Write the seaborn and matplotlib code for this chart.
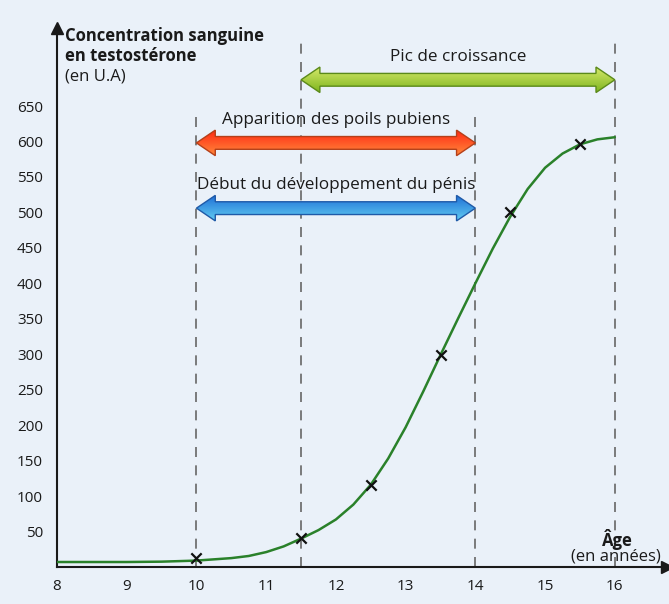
import matplotlib
matplotlib.use("Agg")
import matplotlib.pyplot as plt
import matplotlib.patches as mpatches
import numpy as np
import pandas as pd
import seaborn as sns

# courbe (âge en années, concentration en U.A)
age = [8, 9, 9.5, 10, 10.5, 10.75, 11, 11.25, 11.5, 11.75, 12, 12.25, 12.5,
       12.75, 13, 13.25, 13.5, 13.75, 14, 14.25, 14.5, 14.75, 15, 15.25,
       15.5, 15.75, 16]
conc = [7, 7, 7.5, 9, 12.5, 15.5, 21, 29, 40, 52, 67, 88, 116,
        153, 197, 247, 299, 350, 400, 449, 494, 533, 563, 583,
        596, 603, 606]

# points mesurés (croix)
pt_age = [10, 11.5, 12.5, 13.5, 14.5, 15.5]
pt_conc = [13, 41, 116, 299, 500, 597]

# périodes
periodes = ["Pic de croissance", "Apparition des poils pubiens",
            "Début du développement du pénis"]
debut = [11.5, 10, 10]
fin = [16, 14, 14]
niveau = [687, 598, 506]
grad_haut = ["#d4e86a", "#ff2a14", "#1f6fd6"]
grad_bas = ["#7cb41c", "#ff8a3c", "#62cdf2"]
bord = ["#5b8a1a", "#b5401a", "#1f5aa8"]

yticks = list(range(50, 700, 50))
xticks = list(range(8, 17))

bg = "#eaf1f9"
sns.set_theme(style="white")
plt.rcParams["font.family"] = ["Open Sans", "DejaVu Sans"]
plt.rcParams["text.color"] = "#1a1a1a"

fig = plt.figure(figsize=(6.69, 6.04), dpi=100, facecolor=bg)
ax = fig.add_axes([0.0852, 0.0613, 0.912, 0.8923], facecolor=bg)

XMIN, XMAX, YMIN, YMAX = 8, 16.75, 0, 760

# lignes pointillées verticales
for x, top in zip([10, 11.5, 14, 16], [637, 743, 637, 743]):
    ax.plot([x, x], [0, top], color="#666666", lw=1.2, ls=(0, (6, 5)), zorder=1)

# flèches doubles avec dégradé
hl = 0.27
hw = 18
tw = 9
for lab, a, b, y, c1, c2, ec in zip(periodes, debut, fin, niveau, grad_haut, grad_bas, bord):
    poly = [(a, y), (a + hl, y + hw), (a + hl, y + tw), (b - hl, y + tw),
            (b - hl, y + hw), (b, y), (b - hl, y - hw), (b - hl, y - tw),
            (a + hl, y - tw), (a + hl, y - hw)]
    patch = mpatches.Polygon(poly, closed=True, facecolor="none",
                             edgecolor=ec, lw=1.0, zorder=4)
    ax.add_patch(patch)
    cmap = matplotlib.colors.LinearSegmentedColormap.from_list("g", [c2, c1])
    grad = np.linspace(0, 1, 64).reshape(-1, 1)
    im = ax.imshow(grad, extent=[a, b, y - hw, y + hw], origin="lower",
                   cmap=cmap, aspect="auto", zorder=3)
    im.set_clip_path(patch)
    ax.text((a + b) / 2, y + 21, lab, ha="center", va="bottom", fontsize=12.3,
            zorder=5)

# courbe + croix
df = pd.DataFrame({"age": age, "conc": conc})
sns.lineplot(data=df, x="age", y="conc", ax=ax, color="#2a812a", lw=1.8,
             zorder=6)
pts = pd.DataFrame({"age": pt_age, "conc": pt_conc})
sns.scatterplot(data=pts, x="age", y="conc", ax=ax, marker="x", color="#111111",
                s=55, linewidth=1.6, zorder=7)

ax.set_xlim(XMIN, XMAX)
ax.set_ylim(YMIN, YMAX)
ax.set_xlabel("")
ax.set_ylabel("")
ax.set_xticks(xticks)
ax.set_yticks(yticks)
ax.tick_params(axis="both", direction="out", length=6, width=1.2,
               colors="#1a1a1a", labelsize=11, pad=4)
ax.tick_params(axis="x", pad=3)
for s in ["top", "right"]:
    ax.spines[s].set_visible(False)
for s in ["left", "bottom"]:
    ax.spines[s].set_color("#1a1a1a")
    ax.spines[s].set_linewidth(1.5)

# pointes des axes
ax.plot(1, 0, marker=">", color="#1a1a1a", ms=8, transform=ax.get_yaxis_transform(),
        clip_on=False, zorder=8)
ax.plot(XMIN, 1, marker="^", color="#1a1a1a", ms=8, transform=ax.get_xaxis_transform(),
        clip_on=False, zorder=8)

ax.text(8.12, 762, "Concentration sanguine\nen testostérone", ha="left",
        va="top", fontsize=12, fontweight="bold", linespacing=1.15)
ax.text(8.12, 703, "(en U.A)", ha="left", va="top", fontsize=12)
ax.text(16.04, 24, "Âge", ha="center", va="bottom", fontsize=12,
        fontweight="bold")
ax.text(16.02, 4, "(en années)", ha="center", va="bottom", fontsize=12)

fig.savefig("out.png", dpi=100, facecolor=bg)
